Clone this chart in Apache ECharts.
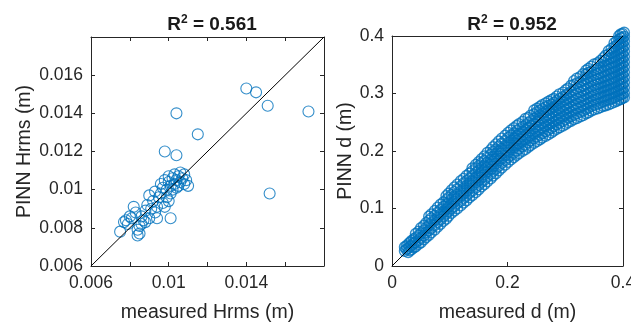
<!DOCTYPE html>
<html>
<head>
<meta charset="utf-8">
<script src="https://cdn.jsdelivr.net/npm/echarts@6/dist/echarts.min.js"></script>
<style>
  html, body { margin: 0; padding: 0; background: #fff; }
  #chart { width: 631px; height: 325px; }
</style>
</head>
<body>
<div id="chart"></div>
<script>
// Hrms: measured vs PINN prediction (m)
const hrmsMeasured = [
  0.0140, 0.0145, 0.0151, 0.0172, 0.0104, 0.0115, 0.0098, 0.0104, 0.0152, 0.0110, 0.0101, 0.0094,
  0.0075, 0.0077, 0.0078, 0.0079, 0.0080, 0.0081, 0.0082, 0.0083, 0.0084, 0.0084, 0.0085, 0.0085,
  0.0086, 0.0086, 0.0087, 0.0088, 0.0089, 0.0090, 0.0090, 0.0091, 0.0092, 0.0093, 0.0094, 0.0095,
  0.0096, 0.0096, 0.0097, 0.0097, 0.0098, 0.0099, 0.0099, 0.0100, 0.0100, 0.0101, 0.0101, 0.0102,
  0.0102, 0.0103, 0.0103, 0.0104, 0.0104, 0.0105, 0.0105, 0.0106, 0.0106, 0.0107, 0.0108, 0.0108,
  0.0109, 0.0100, 0.0098, 0.0093, 0.0088
];
const hrmsPinn = [
  0.0153, 0.0151, 0.0144, 0.0141, 0.0140, 0.0129, 0.0120, 0.0118, 0.0098, 0.0102, 0.0085, 0.0085,
  0.0078, 0.0083, 0.0084, 0.0082, 0.0086, 0.0085, 0.0091, 0.0088, 0.0076, 0.0079, 0.0077, 0.0081,
  0.0082, 0.0086, 0.0084, 0.0089, 0.0092, 0.0085, 0.0097, 0.0090, 0.0094, 0.0099, 0.0091, 0.0096,
  0.0103, 0.0098, 0.0093, 0.0101, 0.0105, 0.0100, 0.0096, 0.0104, 0.0107, 0.0102, 0.0098, 0.0106,
  0.0100, 0.0103, 0.0108, 0.0101, 0.0105, 0.0102, 0.0107, 0.0104, 0.0109, 0.0106, 0.0103, 0.0108,
  0.0105, 0.0094, 0.0091, 0.0088, 0.0083
];

// Water depth d: measured value of each column and the PINN values found at it (m)
const depthMeasured = [
  0.022, 0.028, 0.034, 0.041, 0.050, 0.059, 0.068, 0.079, 0.089, 0.098,
  0.108, 0.119, 0.129, 0.139, 0.150, 0.160, 0.171, 0.180, 0.190, 0.201,
  0.211, 0.220, 0.231, 0.240, 0.251, 0.260, 0.271, 0.280, 0.290, 0.301,
  0.310, 0.320, 0.331, 0.340, 0.350, 0.361, 0.370, 0.380, 0.389, 0.396, 0.402,
  0.025, 0.031, 0.038, 0.046, 0.055, 0.064, 0.074, 0.084, 0.094, 0.103,
  0.113, 0.124, 0.134, 0.145, 0.155, 0.165, 0.175, 0.185, 0.196, 0.206,
  0.216, 0.226, 0.236, 0.246, 0.256, 0.266, 0.276, 0.285, 0.296, 0.305,
  0.315, 0.326, 0.336, 0.345, 0.356, 0.366, 0.375, 0.385, 0.393, 0.399
];
const depthPinn = [
  [0.026, 0.033],
  [0.024, 0.031, 0.038],
  [0.029, 0.036, 0.044],
  [0.034, 0.041, 0.049, 0.056],
  [0.041, 0.049, 0.057, 0.066],
  [0.050, 0.058, 0.066, 0.075],
  [0.058, 0.066, 0.075, 0.083, 0.090],
  [0.068, 0.076, 0.085, 0.093, 0.102],
  [0.078, 0.086, 0.094, 0.103, 0.111],
  [0.087, 0.095, 0.103, 0.111, 0.119, 0.126],
  [0.096, 0.104, 0.112, 0.121, 0.129, 0.137],
  [0.105, 0.113, 0.122, 0.130, 0.139, 0.148],
  [0.114, 0.122, 0.131, 0.139, 0.148, 0.157],
  [0.123, 0.131, 0.140, 0.148, 0.157, 0.165, 0.170],
  [0.133, 0.141, 0.149, 0.158, 0.166, 0.174, 0.181],
  [0.142, 0.150, 0.159, 0.167, 0.175, 0.183, 0.191],
  [0.152, 0.160, 0.168, 0.177, 0.185, 0.194, 0.202],
  [0.161, 0.169, 0.178, 0.186, 0.195, 0.203, 0.212],
  [0.171, 0.179, 0.187, 0.196, 0.204, 0.213, 0.222],
  [0.181, 0.189, 0.197, 0.206, 0.214, 0.223, 0.232],
  [0.189, 0.197, 0.206, 0.214, 0.222, 0.231, 0.240],
  [0.196, 0.204, 0.213, 0.221, 0.230, 0.238, 0.247],
  [0.203, 0.211, 0.220, 0.228, 0.237, 0.245, 0.256],
  [0.210, 0.218, 0.227, 0.235, 0.244, 0.252, 0.262],
  [0.217, 0.225, 0.234, 0.242, 0.251, 0.259, 0.268, 0.274],
  [0.223, 0.231, 0.240, 0.248, 0.257, 0.265, 0.273, 0.280],
  [0.229, 0.237, 0.246, 0.254, 0.262, 0.271, 0.279, 0.286],
  [0.235, 0.243, 0.251, 0.260, 0.268, 0.276, 0.284, 0.291],
  [0.241, 0.249, 0.257, 0.266, 0.274, 0.283, 0.291, 0.299],
  [0.247, 0.255, 0.263, 0.272, 0.280, 0.289, 0.297, 0.306],
  [0.252, 0.260, 0.268, 0.277, 0.286, 0.294, 0.303, 0.314],
  [0.257, 0.265, 0.274, 0.282, 0.291, 0.300, 0.309, 0.318, 0.326],
  [0.262, 0.270, 0.279, 0.288, 0.296, 0.305, 0.314, 0.323, 0.334],
  [0.267, 0.275, 0.284, 0.292, 0.301, 0.310, 0.319, 0.328, 0.336, 0.343],
  [0.272, 0.280, 0.289, 0.297, 0.306, 0.314, 0.323, 0.332, 0.341, 0.351],
  [0.276, 0.284, 0.293, 0.301, 0.310, 0.318, 0.327, 0.336, 0.345, 0.357],
  [0.279, 0.288, 0.296, 0.305, 0.313, 0.322, 0.331, 0.340, 0.349, 0.358, 0.366],
  [0.283, 0.291, 0.300, 0.308, 0.317, 0.326, 0.335, 0.344, 0.353, 0.362, 0.371, 0.378],
  [0.287, 0.295, 0.304, 0.312, 0.321, 0.330, 0.339, 0.348, 0.357, 0.366, 0.375, 0.384, 0.391],
  [0.290, 0.298, 0.307, 0.316, 0.325, 0.334, 0.343, 0.352, 0.361, 0.370, 0.379, 0.388, 0.396, 0.403],
  [0.293, 0.301, 0.310, 0.319, 0.328, 0.337, 0.346, 0.355, 0.364, 0.373, 0.382, 0.391, 0.399, 0.406],
  [0.029, 0.035],
  [0.027, 0.034, 0.041],
  [0.032, 0.040, 0.047],
  [0.038, 0.045, 0.053, 0.060],
  [0.046, 0.053, 0.062, 0.070],
  [0.054, 0.062, 0.071, 0.079, 0.086],
  [0.063, 0.071, 0.080, 0.088, 0.096],
  [0.073, 0.081, 0.090, 0.098, 0.107],
  [0.082, 0.091, 0.099, 0.107, 0.115, 0.122],
  [0.092, 0.100, 0.108, 0.116, 0.124, 0.132],
  [0.100, 0.109, 0.117, 0.125, 0.134, 0.142],
  [0.110, 0.118, 0.126, 0.135, 0.144, 0.152],
  [0.119, 0.127, 0.135, 0.144, 0.152, 0.161],
  [0.128, 0.136, 0.145, 0.153, 0.162, 0.170, 0.176],
  [0.138, 0.146, 0.154, 0.162, 0.171, 0.179, 0.186],
  [0.147, 0.155, 0.164, 0.172, 0.180, 0.189, 0.197],
  [0.157, 0.165, 0.173, 0.182, 0.190, 0.199, 0.207],
  [0.166, 0.174, 0.183, 0.191, 0.200, 0.208, 0.217],
  [0.176, 0.184, 0.192, 0.201, 0.209, 0.218, 0.227],
  [0.185, 0.193, 0.202, 0.210, 0.218, 0.227, 0.236],
  [0.193, 0.201, 0.210, 0.218, 0.226, 0.235, 0.244],
  [0.200, 0.208, 0.216, 0.225, 0.233, 0.242, 0.251],
  [0.207, 0.215, 0.223, 0.232, 0.240, 0.249, 0.258],
  [0.214, 0.222, 0.230, 0.239, 0.247, 0.256, 0.264, 0.271],
  [0.220, 0.228, 0.237, 0.245, 0.253, 0.262, 0.270, 0.277],
  [0.226, 0.234, 0.243, 0.251, 0.259, 0.268, 0.276, 0.283],
  [0.232, 0.240, 0.248, 0.257, 0.265, 0.273, 0.281, 0.289],
  [0.238, 0.246, 0.254, 0.263, 0.271, 0.279, 0.287, 0.295],
  [0.244, 0.252, 0.260, 0.269, 0.277, 0.286, 0.294, 0.302],
  [0.250, 0.258, 0.266, 0.274, 0.283, 0.291, 0.300, 0.309],
  [0.255, 0.263, 0.271, 0.280, 0.288, 0.297, 0.306, 0.315, 0.322],
  [0.260, 0.268, 0.276, 0.285, 0.293, 0.302, 0.311, 0.320, 0.329],
  [0.265, 0.273, 0.281, 0.290, 0.298, 0.307, 0.316, 0.325, 0.333, 0.340],
  [0.270, 0.278, 0.286, 0.295, 0.303, 0.312, 0.321, 0.330, 0.338, 0.347],
  [0.274, 0.282, 0.291, 0.299, 0.308, 0.316, 0.325, 0.334, 0.343, 0.353],
  [0.278, 0.286, 0.294, 0.303, 0.311, 0.320, 0.329, 0.338, 0.347, 0.355, 0.362],
  [0.281, 0.289, 0.298, 0.306, 0.315, 0.324, 0.333, 0.342, 0.351, 0.360, 0.368, 0.374],
  [0.285, 0.293, 0.302, 0.310, 0.319, 0.328, 0.337, 0.346, 0.355, 0.364, 0.373, 0.381, 0.388],
  [0.289, 0.297, 0.305, 0.314, 0.323, 0.332, 0.341, 0.350, 0.359, 0.368, 0.377, 0.386, 0.394, 0.400],
  [0.292, 0.300, 0.308, 0.317, 0.326, 0.335, 0.344, 0.353, 0.362, 0.371, 0.380, 0.389, 0.397, 0.404]
];

// Axis ranges and the tick values that carry a label
const hrmsRange = [0.006, 0.018];
const depthRange = [0, 0.4];
const hrmsXTickLabels = [0.006, 0.01, 0.014];
const hrmsYTickLabels = [0.006, 0.008, 0.01, 0.012, 0.014, 0.016];
const depthXTickLabels = [0, 0.2, 0.4];
const depthYTickLabels = [0, 0.1, 0.2, 0.3, 0.4];
const r2Values = ['0.561', '0.952'];

const FONT = 'Liberation Sans, Arial, Helvetica, sans-serif';
const INK = '#262626';
const BLUE = '#0072BD';

const hrmsPoints = hrmsMeasured.map((x, i) => [x, hrmsPinn[i]]);
const depthPoints = [];
depthMeasured.forEach((x, i) => depthPinn[i].forEach(y => depthPoints.push([x, y])));

function tickFormatter(list) {
  return v => {
    const r = +(+v).toFixed(4);
    return list.some(t => Math.abs(t - r) < 1e-9) ? String(r) : '';
  };
}

function makeAxis(gridIndex, pos, range, interval, labels, name, nameGap) {
  const main = pos === 'bottom' || pos === 'left';
  return {
    type: 'value',
    gridIndex,
    position: pos,
    min: range[0],
    max: range[1],
    interval,
    name: main ? name : '',
    nameLocation: 'middle',
    nameGap,
    nameMoveOverlap: false,
    nameTextStyle: { fontFamily: FONT, fontSize: 19.5, color: INK },
    axisLine: { show: true, onZero: false, lineStyle: { color: INK, width: 1 } },
    axisTick: { show: true, inside: true, length: 4, lineStyle: { color: INK, width: 1 } },
    axisLabel: {
      show: main,
      formatter: tickFormatter(labels),
      fontFamily: FONT,
      fontSize: 17.5,
      color: INK,
      margin: 8,
      hideOverlap: false
    },
    splitLine: { show: false }
  };
}

function r2Title(value, centerX) {
  return {
    text: '{r|R}{s|2}{r| = ' + value + '}',
    left: centerX,
    top: 9,
    textAlign: 'center',
    textStyle: {
      rich: {
        r: { fontFamily: FONT, fontSize: 19, fontWeight: 'bold', color: '#1a1a1a' },
        s: { fontFamily: FONT, fontSize: 12, fontWeight: 'bold', color: '#1a1a1a', padding: [0, 0, 9, 0] }
      }
    }
  };
}

const option = {
  animation: false,
  backgroundColor: '#ffffff',
  title: [r2Title(r2Values[0], 207), r2Title(r2Values[1], 507)],
  grid: [
    { left: 91, top: 37, width: 233, height: 229, containLabel: false, outerBoundsMode: 'none' },
    { left: 392, top: 36, width: 231, height: 230, containLabel: false, outerBoundsMode: 'none' }
  ],
  xAxis: [
    makeAxis(0, 'bottom', hrmsRange, 0.002, hrmsXTickLabels, 'measured Hrms (m)', 37),
    makeAxis(0, 'top', hrmsRange, 0.002, [], '', 0),
    makeAxis(1, 'bottom', depthRange, 0.2, depthXTickLabels, 'measured d (m)', 37),
    makeAxis(1, 'top', depthRange, 0.2, [], '', 0)
  ],
  yAxis: [
    makeAxis(0, 'left', hrmsRange, 0.002, hrmsYTickLabels, 'PINN Hrms (m)', 56),
    makeAxis(0, 'right', hrmsRange, 0.002, [], '', 0),
    makeAxis(1, 'left', depthRange, 0.1, depthYTickLabels, 'PINN d (m)', 36),
    makeAxis(1, 'right', depthRange, 0.1, [], '', 0)
  ],
  series: [
    {
      type: 'scatter', xAxisIndex: 0, yAxisIndex: 0,
      data: hrmsPoints, symbol: 'circle', symbolSize: 11,
      itemStyle: { color: 'rgba(0,0,0,0)', borderColor: BLUE, borderWidth: 1.1 },
      clip: false, silent: true
    },
    {
      type: 'line', xAxisIndex: 0, yAxisIndex: 0,
      data: [[hrmsRange[0], hrmsRange[0]], [hrmsRange[1], hrmsRange[1]]],
      symbol: 'none', lineStyle: { color: '#000', width: 1 }, z: 5, silent: true
    },
    {
      type: 'scatter', xAxisIndex: 2, yAxisIndex: 2,
      data: depthPoints, symbol: 'circle', symbolSize: 10.5,
      itemStyle: { color: 'rgba(0,0,0,0)', borderColor: BLUE, borderWidth: 1.4 },
      clip: false, silent: true, large: false
    },
    {
      type: 'line', xAxisIndex: 2, yAxisIndex: 2,
      data: [[depthRange[0], depthRange[0]], [depthRange[1], depthRange[1]]],
      symbol: 'none', lineStyle: { color: '#000', width: 1 }, z: 5, silent: true
    }
  ]
};

const chart = echarts.init(document.getElementById('chart'), null, { renderer: 'canvas' });
chart.setOption(option);
</script>
</body>
</html>
